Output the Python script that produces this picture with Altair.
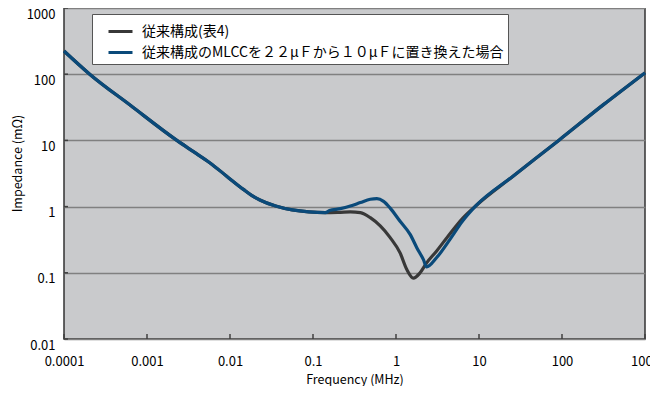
import altair as alt
import pandas as pd

# Frequency (MHz) and impedance (mOhm)
freq_a = [0.0001, 0.000204, 0.00063, 0.00229, 0.00363, 0.00575, 0.00912, 0.0145, 0.0182, 0.0229, 0.0355,
          0.0562, 0.0891, 0.141, 0.214, 0.282, 0.372, 0.49, 0.646, 0.851, 1.12, 1.35, 1.62, 1.95, 2.34,
          3.09, 4.47, 6.31, 9.33, 25.7, 91.2, 316, 1000]
imp_a = [224, 100, 33.9, 10, 6.76, 4.57, 2.88, 1.82, 1.48, 1.26, 1.02,
         0.89, 0.83, 0.81, 0.82, 0.83, 0.81, 0.68, 0.51, 0.34, 0.20, 0.112, 0.083, 0.10, 0.141,
         0.214, 0.39, 0.66, 1.05, 2.88, 10, 34.7, 105]

freq_b = [0.0001, 0.000204, 0.00063, 0.00229, 0.00363, 0.00575, 0.00912, 0.0145, 0.0182, 0.0229, 0.0355,
          0.0562, 0.0891, 0.141, 0.158, 0.214, 0.282, 0.372, 0.49, 0.589, 0.708, 0.851, 1.12, 1.48, 1.78,
          2.14, 2.34, 3.09, 4.47, 6.31, 9.33, 25.7, 91.2, 316, 1000]
imp_b = [224, 100, 33.9, 10, 6.76, 4.57, 2.88, 1.82, 1.48, 1.26, 1.02,
         0.89, 0.83, 0.81, 0.87, 0.93, 1.02, 1.15, 1.29, 1.32, 1.20, 0.95, 0.60, 0.38, 0.24,
         0.158, 0.123, 0.17, 0.32, 0.60, 1.05, 2.88, 10, 34.7, 105]

series_names = ["従来構成(表4)", "従来構成のMLCCを２２μＦから１０μＦに置き換えた場合"]
series_colors = ["#383838", "#0a4a7a"]

x_ticks = [0.0001, 0.001, 0.01, 0.1, 1, 10, 100, 1000]
y_ticks = [0.01, 0.1, 1, 10, 100, 1000]

W, H = 581, 331
FONT = "Noto Sans CJK JP"

df = pd.concat([
    pd.DataFrame({"f": freq_a, "z": imp_a, "s": series_names[0], "o": range(len(freq_a))}),
    pd.DataFrame({"f": freq_b, "z": imp_b, "s": series_names[1], "o": range(len(freq_b))}),
])

xscale = alt.Scale(type="log", domain=[0.0001, 1000], nice=False)
yscale = alt.Scale(type="log", domain=[0.01, 1000], nice=False)

lines = alt.Chart(df).mark_line(strokeWidth=3.2, interpolate="monotone").encode(
    x=alt.X("f:Q", scale=xscale, title="Frequency (MHz)",
            axis=alt.Axis(values=x_ticks, format="~g", grid=False, ticks=False, tickSize=0, domain=False,
                          labelFlush=False, labelOverlap=False,
                          labelPadding=16, labelFontSize=13, labelFont=FONT, labelColor="#000",
                          titleFont=FONT, titleFontSize=12.5, titleFontWeight="normal", titleColor="#000",
                          titleY=40, titleBaseline="middle")),
    y=alt.Y("z:Q", scale=yscale, title="Impedance (mΩ)",
            axis=alt.Axis(values=y_ticks, format="~g", grid=True, gridColor="#808080", gridWidth=1.5,
                          ticks=False, tickSize=0, domain=False, labelBaseline="top", labelAlign="right",
                          labelFlush=False, labelOverlap=False,
                          labelPadding=9, labelFontSize=13, labelFont=FONT, labelColor="#000",
                          titleFont=FONT, titleFontSize=12.5, titleFontWeight="normal", titleColor="#000",
                          titleX=-47, titleY=155, titleAngle=270, titleAlign="center", titleBaseline="middle")),
    color=alt.Color("s:N", scale=alt.Scale(domain=series_names, range=series_colors),
                    legend=alt.Legend(orient="none", legendX=28, legendY=6, title=None,
                                      fillColor="white", strokeColor="#555555", padding=4,
                                      symbolOffset=11, symbolType="stroke", symbolSize=576,
                                      symbolStrokeWidth=3, labelFontSize=14, labelFont=FONT,
                                      labelColor="#000", labelOffset=8, labelLimit=0, rowPadding=0)),
    order="o:Q",
)

xt = alt.Chart(pd.DataFrame({"f": x_ticks})).mark_rule(color="#404040", strokeWidth=1.5).encode(
    x=alt.X("f:Q", scale=xscale), y=alt.value(H - 5), y2=alt.value(H))
yt = alt.Chart(pd.DataFrame({"z": y_ticks})).mark_rule(color="#404040", strokeWidth=1.5).encode(
    y=alt.Y("z:Q", scale=yscale), x=alt.value(0), x2=alt.value(4))

chart = alt.layer(lines, xt, yt).properties(
    width=W, height=H,
    autosize=alt.AutoSizeParams(type="none"),
    padding={"left": 56, "top": 0, "right": 5, "bottom": 47},
).configure_view(fill="#c9cacc", stroke="#333333", strokeWidth=1.5)

chart.save("out.html", embed_options={"renderer": "svg", "actions": False})
